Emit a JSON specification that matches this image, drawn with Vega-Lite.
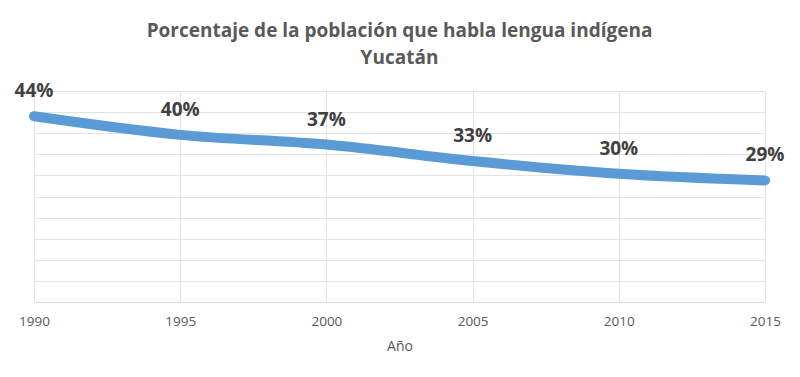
{
  "$schema": "https://vega.github.io/schema/vega-lite/v6.json",
  "width": 731,
  "height": 211,
  "autosize": {"type": "none"},
  "padding": {"left": 34, "top": 91, "right": 35, "bottom": 75},
  "background": "white",
  "title": {
    "text": ["Porcentaje de la población que habla lengua indígena", "Yucatán"],
    "font": "Open Sans",
    "fontSize": 19,
    "fontWeight": "bold",
    "color": "#595959",
    "anchor": "middle",
    "lineHeight": 27,
    "offset": 14
  },
  "data": {
    "values": [
      {"year": 1990, "pct": 0.44},
      {"year": 1995, "pct": 0.396},
      {"year": 2000, "pct": 0.373},
      {"year": 2005, "pct": 0.334},
      {"year": 2010, "pct": 0.304},
      {"year": 2015, "pct": 0.288}
    ]
  },
  "config": {
    "view": {"stroke": null},
    "font": "Open Sans"
  },
  "encoding": {
    "x": {
      "field": "year",
      "type": "quantitative",
      "scale": {"domain": [1990, 2015], "nice": false, "zero": false},
      "axis": {
        "values": [1990, 1995, 2000, 2005, 2010, 2015],
        "format": "d",
        "title": "Año",
        "titleFont": "Open Sans",
        "titleFontSize": 14,
        "titleFontWeight": "normal",
        "titleColor": "#595959",
        "titlePadding": 12,
        "labelFont": "Open Sans",
        "labelFontSize": 13.5,
        "labelColor": "#595959",
        "labelPadding": 12,
        "ticks": false,
        "domainColor": "#d9d9d9",
        "grid": true,
        "gridColor": "#e3e3e3",
        "labelFlush": false
      }
    },
    "y": {
      "field": "pct",
      "type": "quantitative",
      "scale": {"domain": [0, 0.5], "nice": false},
      "axis": {
        "values": [0, 0.05, 0.1, 0.15, 0.2, 0.25, 0.3, 0.35, 0.4, 0.45, 0.5],
        "labels": false,
        "ticks": false,
        "domain": false,
        "title": null,
        "grid": true,
        "gridColor": "#e3e3e3"
      }
    }
  },
  "layer": [
    {
      "mark": {"type": "line", "interpolate": "monotone", "color": "#5b9bd5", "strokeWidth": 10, "strokeCap": "round", "strokeJoin": "round"}
    },
    {
      "mark": {"type": "text", "dy": -25, "font": "Open Sans", "fontSize": 19, "fontWeight": "bold", "color": "#404040"},
      "encoding": {
        "text": {"field": "pct", "type": "quantitative", "format": ".0%"}
      }
    }
  ]
}
